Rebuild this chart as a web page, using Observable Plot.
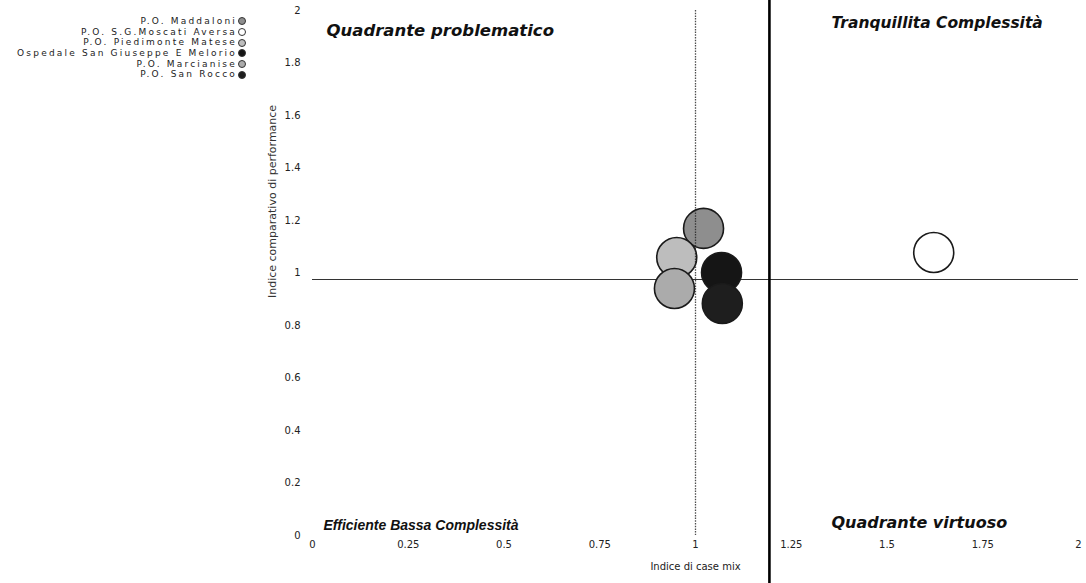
<!DOCTYPE html>
<html>
<head>
<meta charset="utf-8">
<script src="https://cdn.jsdelivr.net/npm/d3@7"></script>
<script src="https://cdn.jsdelivr.net/npm/@observablehq/plot@0.6"></script>
<style>
  html, body { margin: 0; padding: 0; background: #fff; }
  #wrap { position: relative; width: 1086px; height: 583px; overflow: hidden; }
  #legend { position: absolute; left: 0; top: 16px; width: 246px; font-family: "DejaVu Sans", sans-serif; font-size: 9px; letter-spacing: 2.2px; color: #222; }
  #legend .row { display: flex; justify-content: flex-end; align-items: center; height: 10.7px; line-height: 10.7px; white-space: nowrap; }
  #legend .sw { display: inline-block; width: 8px; height: 8px; border-radius: 50%; border: 1px solid #333; margin-left: 1px; box-sizing: border-box; }
</style>
</head>
<body>
<div id="wrap"><div id="legend"></div></div>
<script>
// ---- data ----
const hospitals = [
  "P.O. Maddaloni",
  "P.O. S.G.Moscati Aversa",
  "P.O. Piedimonte Matese",
  "Ospedale San Giuseppe E Melorio",
  "P.O. Marcianise",
  "P.O. San Rocco"
];
const caseMixIndex = [1.021, 1.622, 0.951, 1.068, 0.945, 1.070];
const performanceIndex = [1.170, 1.078, 1.059, 1.002, 0.941, 0.884];
const hospitalColors = ["#8e8e8e", "#ffffff", "#bdbdbd", "#151515", "#ababab", "#1e1e1e"];

const xTicks = [0, 0.25, 0.5, 0.75, 1, 1.25, 1.5, 1.75, 2];
const yTicks = [0, 0.2, 0.4, 0.6, 0.8, 1, 1.2, 1.4, 1.6, 1.8, 2];

const refCaseMix = 1;          // dotted vertical reference
const thresholdCaseMix = 1.193; // thick vertical divider
const refPerformance = 0.975;  // horizontal reference

const quadTopLeft = "Quadrante problematico";
const quadTopRight = "Tranquillita Complessità";
const quadBottomLeft = "Efficiente Bassa Complessità";
const quadBottomRight = "Quadrante virtuoso";

const xLabel = "Indice di case mix";
const yLabel = "Indice comparativo di performance";

const table = hospitals.map((name, i) => ({ name, x: caseMixIndex[i], y: performanceIndex[i] }));
const fmt = d => String(d);

const chart = Plot.plot({
  width: 1086,
  height: 583,
  marginLeft: 312,
  marginRight: 8,
  marginTop: 10,
  marginBottom: 48,
  style: { fontFamily: "DejaVu Sans, sans-serif", fontSize: "10px", color: "#222", background: "transparent" },
  x: { domain: [0, 2] },
  y: { domain: [0, 2] },
  color: { type: "ordinal", domain: hospitals, range: hospitalColors },
  marks: [
    Plot.axisX({ ticks: xTicks, tickFormat: fmt, tickSize: 0, tickPadding: 5, label: xLabel, labelAnchor: "center", labelOffset: 34, labelArrow: "none", fontSize: 10 }),
    Plot.axisY({ ticks: yTicks, tickFormat: fmt, tickSize: 0, tickPadding: 12, label: null, fontSize: 10 }),
    Plot.text([yLabel], { frameAnchor: "left", dx: -40, dy: 25, rotate: -90, fontSize: 11, fill: "#333" }),
    Plot.ruleY([refPerformance], { stroke: "#333", strokeWidth: 1.1 }),
    Plot.ruleX([thresholdCaseMix], { y1: -0.2, y2: 2.05, stroke: "#000", strokeWidth: 2.6, clip: false }),
    Plot.dot(table, { x: "x", y: "y", r: 20, fill: "name", stroke: "#1a1a1a", strokeWidth: 1.6 }),
    Plot.ruleX([refCaseMix], { stroke: "#222", strokeWidth: 1.3, strokeDasharray: "1.5,1.2", strokeOpacity: 0.8 }),
    Plot.text([quadTopLeft], { frameAnchor: "top-left", dx: 14, dy: 20, textAnchor: "start", lineAnchor: "middle", fontSize: 16.5, fontWeight: "bold", fontStyle: "italic", fill: "#111" }),
    Plot.text([quadTopRight], { x: () => thresholdCaseMix, frameAnchor: "top", dx: 62, dy: 13, textAnchor: "start", lineAnchor: "middle", fontSize: 15.5, fontWeight: "bold", fontStyle: "italic", fill: "#111" }),
    Plot.text([quadBottomLeft], { frameAnchor: "bottom-left", dx: 11, dy: -10, textAnchor: "start", lineAnchor: "middle", fontSize: 14, fontWeight: "bold", fontStyle: "italic", fontFamily: "Liberation Sans, Arial, sans-serif", fill: "#111" }),
    Plot.text([quadBottomRight], { x: () => thresholdCaseMix, frameAnchor: "bottom", dx: 62, dy: -13, textAnchor: "start", lineAnchor: "middle", fontSize: 16, fontWeight: "bold", fontStyle: "italic", fill: "#111" })
  ]
});

const wrap = document.getElementById("wrap");
wrap.insertBefore(chart, wrap.firstChild);

// legend (text right-aligned, swatch on the right)
const legend = d3.select("#legend");
const color = chart.scale("color");
hospitals.forEach((h, i) => {
  const row = legend.append("div").attr("class", "row");
  row.append("span").text(h);
  row.append("span").attr("class", "sw").style("background", color.apply(h));
});
</script>
</body>
</html>
